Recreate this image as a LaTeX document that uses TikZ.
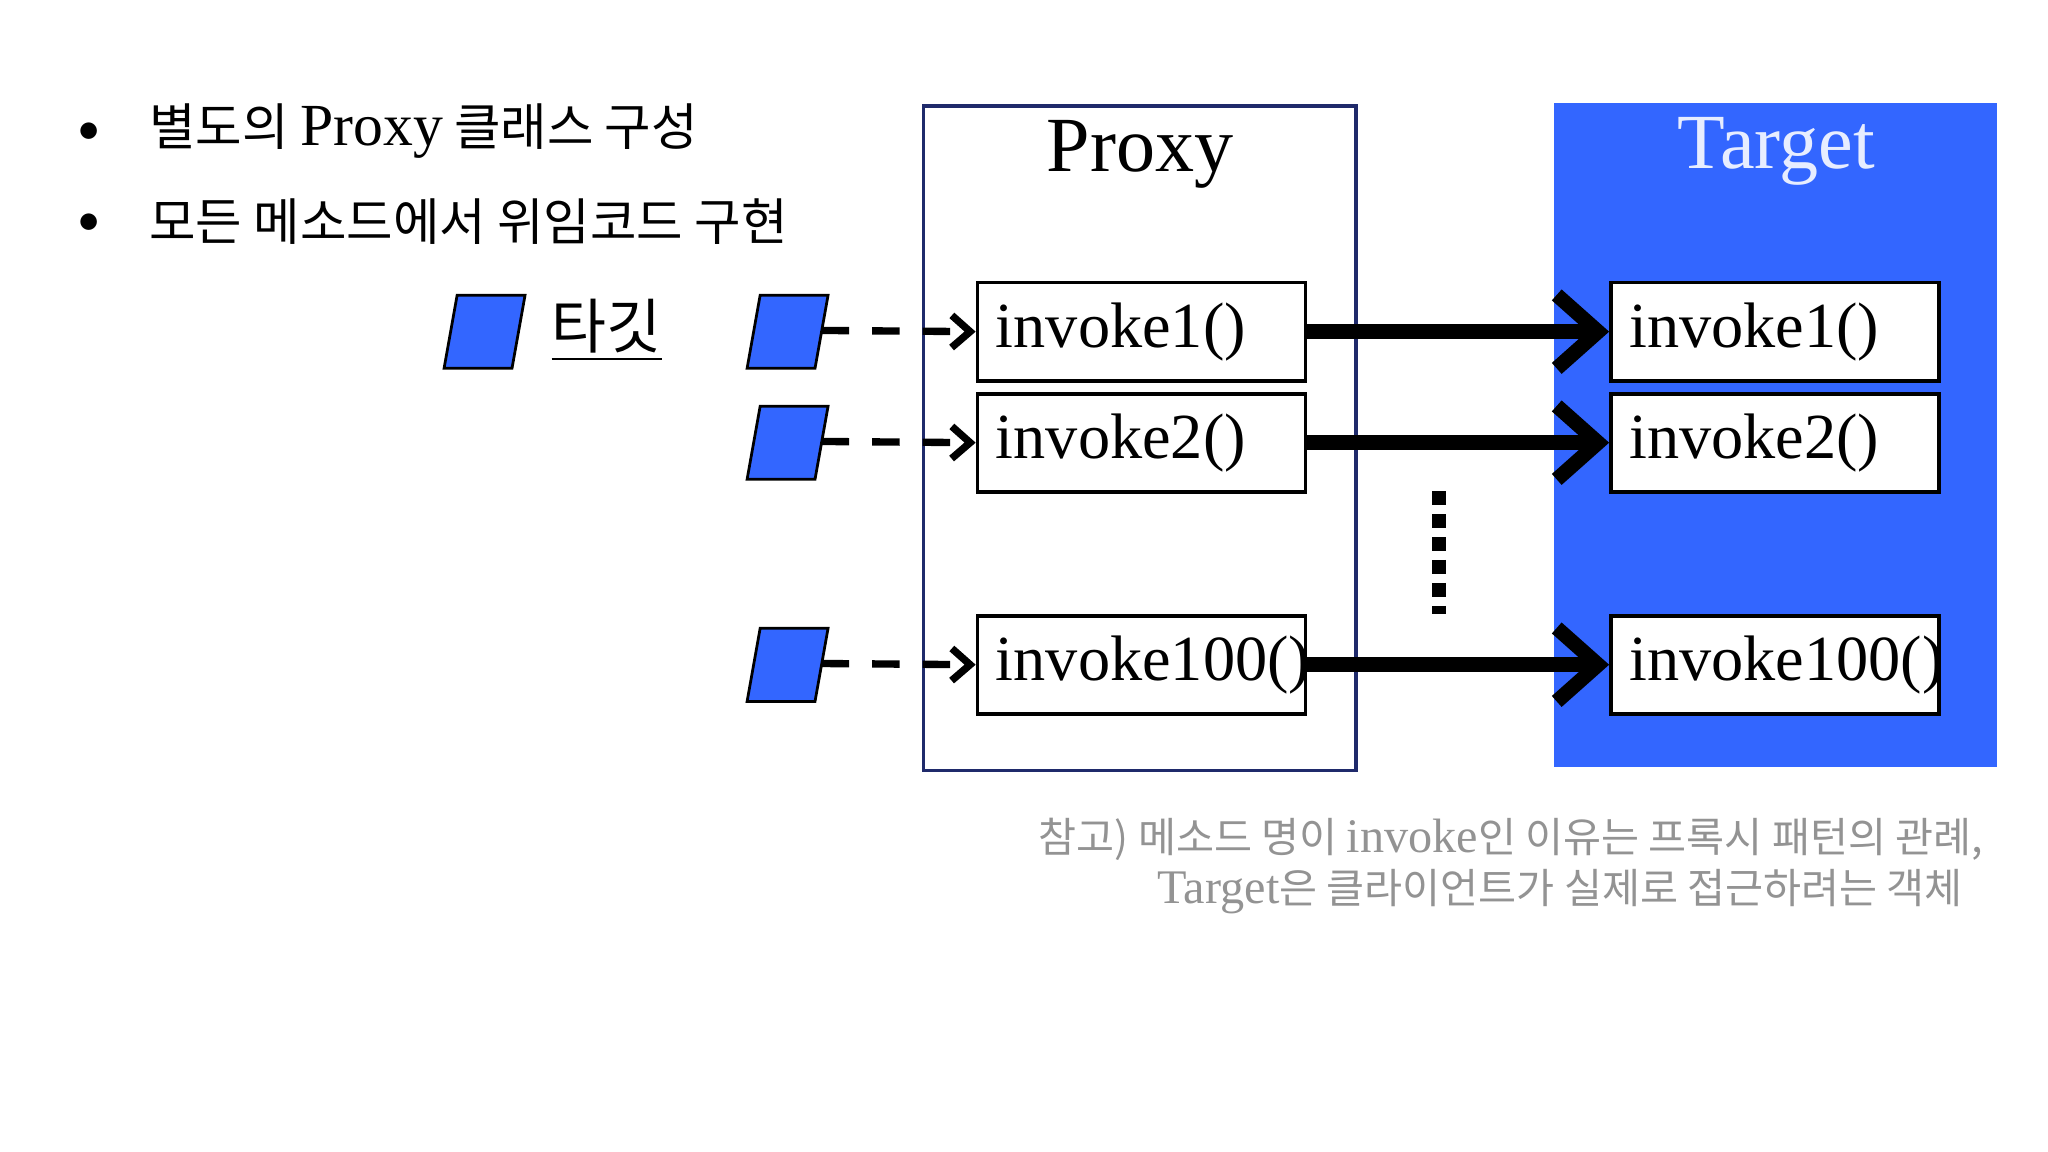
\documentclass[tikz,border=0pt]{standalone}
\usepackage{fontspec}
\setmainfont{Liberation Serif}
\newfontfamily\kr{Noto Sans CJK KR}
\usetikzlibrary{arrows.meta,shapes.geometric}
\definecolor{tblue}{HTML}{3366FF}
\definecolor{pblue}{HTML}{1F2A6B}
\tikzset{
 meth/.style={draw=black,fill=white,line width=0.8pt,minimum width=2.51cm,minimum height=0.75cm,anchor=north west,inner sep=0pt},
 mtext/.style={font=\fontsize{14}{16}\selectfont,anchor=west},
 para/.style={draw=black,fill=tblue,line width=0.6pt},
 dasharr/.style={line width=1.6pt,dash pattern=on 6pt off 5pt,-{Straight Barb[length=4pt,width=7pt]}},
 thickarr/.style={line width=3.2pt,-{Straight Barb[length=9pt,width=16pt]}},
 bul/.style={font=\kr\fontsize{11}{13}\selectfont,anchor=west},
 note/.style={font=\kr\fontsize{9}{11}\selectfont,text=gray!85,anchor=west}
}
\begin{document}
\begin{tikzpicture}[x=0.01cm,y=-0.01cm]
\useasboundingbox (0,0) rectangle (1568,882);
\fill[white] (0,0) rectangle (1568,882);
\node[font=\fontsize{9}{11}\selectfont] (b1) at (68,101) {$\bullet$};
\node[font=\fontsize{9}{11}\selectfont] (b2) at (68,171) {$\bullet$};
\node[bul] (t1) at (102,100) {별도의 {\rmfamily\fontsize{13}{15}\selectfont Proxy} 클래스 구성};
\node[bul] (t2) at (102,170) {모든 메소드에서 위임코드 구현};
\draw[para] (350,226) -- (402,226) -- (392,282) -- (340,282) -- cycle;
\node[font=\kr\fontsize{13}{15}\selectfont,anchor=west] (leg) at (410,253) {\underline{타깃}};
\draw[pblue,line width=0.8pt,fill=white] (707,81) rectangle (1038,590);
\node[font=\fontsize{17}{20}\selectfont] (ptitle) at (873,118) {Proxy};
\fill[tblue] (1190,79) rectangle (1529,587);
\node[font=\fontsize{17}{20}\selectfont,text=white!88!tblue] (ttitle) at (1360,116) {Target};
\foreach \n/\yy/\lab in {1/215/invoke1(),2/300/invoke2(),3/470/invoke100()}{
  \node[meth] (p\n) at (747,\yy) {};
  \node[mtext] at ([xshift=0.03cm]p\n.west) {\lab};
  \node[meth] (q\n) at (1232,\yy) {};
  \node[mtext] at ([xshift=0.03cm]q\n.west) {\lab};
  \draw[thickarr] (p\n.east) -- (q\n.west);
  \pgfmathsetmacro\ya{\yy+11}\pgfmathsetmacro\yb{\yy+67}
  \draw[para] (582,\ya) -- (634,\ya) -- (624,\yb) -- (572,\yb) -- cycle;
  \coordinate (s\n) at (629,\yy+38);
  \draw[dasharr] (s\n) -- (p\n.west);
}
\draw[line width=3pt,dash pattern=on 3pt off 2pt] (1102,376) -- (1102,470);
\node[note] (n1) at (783,643) {참고) 메소드 명이 {\rmfamily\fontsize{10.5}{12}\selectfont invoke}인 이유는 프록시 패턴의 관례,};
\node[note] (n2) at (874,683) {{\rmfamily\fontsize{10.5}{12}\selectfont Target}은 클라이언트가 실제로 접근하려는 객체};
\end{tikzpicture}
\end{document}
